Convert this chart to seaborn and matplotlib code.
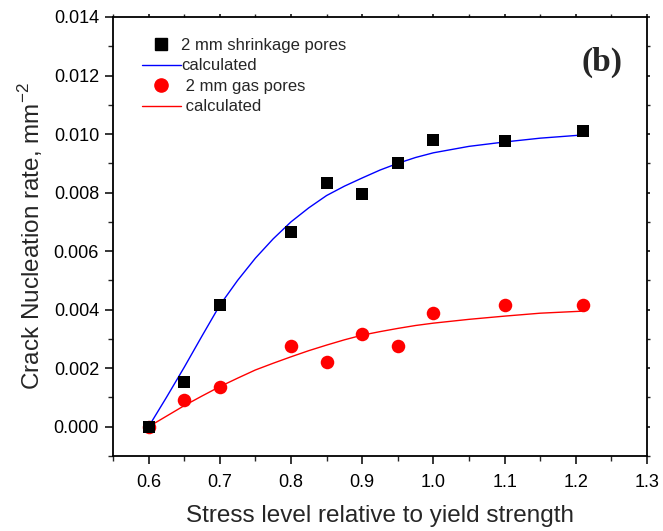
import matplotlib
matplotlib.use("Agg")
import matplotlib.pyplot as plt
import seaborn as sns
import pandas as pd
from matplotlib.lines import Line2D

# measured points
x_pts = [0.6, 0.65, 0.7, 0.8, 0.85, 0.9, 0.95, 1.0, 1.1, 1.21]
shrink = [0.0, 0.00154, 0.00415, 0.00665, 0.00832, 0.00796, 0.00900, 0.00980, 0.00975, 0.01010]
gas = [0.0, 0.00091, 0.00137, 0.00277, 0.00222, 0.00317, 0.00277, 0.00388, 0.00416, 0.00416]

# calculated curves
x_cal = [0.6, 0.625, 0.65, 0.675, 0.7, 0.725, 0.75, 0.775, 0.8, 0.825, 0.85, 0.875, 0.9,
         0.925, 0.95, 0.975, 1.0, 1.05, 1.1, 1.15, 1.21]
shrink_cal = [0.0, 0.00100, 0.00203, 0.00310, 0.00415, 0.00500, 0.00576, 0.00642, 0.00700,
              0.00748, 0.00790, 0.00822, 0.00850, 0.00877, 0.00900, 0.00920, 0.00936,
              0.00958, 0.00973, 0.00986, 0.00997]
gas_cal = [0.0, 0.00036, 0.00072, 0.00105, 0.00137, 0.00166, 0.00194, 0.00217, 0.00239,
           0.00260, 0.00279, 0.00297, 0.00313, 0.00325, 0.00336, 0.00346, 0.00354,
           0.00367, 0.00378, 0.00388, 0.00395]

labels = ["2 mm shrinkage pores", "calculated", " 2 mm gas pores", " calculated"]
x_ticks = [0.6, 0.7, 0.8, 0.9, 1.0, 1.1, 1.2, 1.3]
y_ticks = [0.000, 0.002, 0.004, 0.006, 0.008, 0.010, 0.012, 0.014]

sns.set_theme(style="ticks")
plt.rcParams['font.family'] = ['Liberation Sans', 'DejaVu Sans']
plt.rcParams['mathtext.fontset'] = 'custom'
plt.rcParams['mathtext.rm'] = 'Liberation Sans'

fig = plt.figure(figsize=(6.63, 5.31), dpi=100)
ax = fig.add_axes([0.1704, 0.1412, 0.8055, 0.8268])

df_pts = pd.DataFrame({"x": x_pts, "shrink": shrink, "gas": gas})
df_cal = pd.DataFrame({"x": x_cal, "shrink": shrink_cal, "gas": gas_cal})

sns.lineplot(data=df_cal, x="x", y="shrink", ax=ax, color="#0000ff", linewidth=1.0, zorder=2)
sns.lineplot(data=df_cal, x="x", y="gas", ax=ax, color="#ff0000", linewidth=1.0, zorder=2)
sns.scatterplot(data=df_pts, x="x", y="gas", ax=ax, color="#ff0000", marker="o", s=95,
                linewidth=0, zorder=3)
sns.scatterplot(data=df_pts, x="x", y="shrink", ax=ax, color="black", marker="s", s=72,
                linewidth=0, zorder=4)

ax.set_xlim(0.55, 1.3)
ax.set_ylim(-0.001, 0.014)
ax.set_xticks(x_ticks)
ax.set_xticklabels([f"{v:.1f}" for v in x_ticks])
ax.set_yticks(y_ticks)
ax.set_yticklabels([f"{v:.3f}" for v in y_ticks])
ax.set_xticks([0.55, 0.65, 0.75, 0.85, 0.95, 1.05, 1.15, 1.25], minor=True)
ax.set_yticks([-0.001, 0.001, 0.003, 0.005, 0.007, 0.009, 0.011, 0.013], minor=True)

for s in ax.spines.values():
    s.set_linewidth(1.3)
    s.set_color("black")
ax.tick_params(axis="both", which="major", direction="out", length=6, width=1.1,
               labelsize=13, colors="black", pad=4)
ax.tick_params(axis="both", which="minor", direction="out", length=3.5, width=1.0)
ax.tick_params(axis="x", which="both", top=True, labeltop=False)
ax.tick_params(axis="y", which="both", right=True, labelright=False)
ax.tick_params(axis="x", which="major", pad=7)
# smaller ticks on top/right
for t in ax.xaxis.get_major_ticks() + ax.xaxis.get_minor_ticks():
    t.tick2line.set_markersize(2.5)
for t in ax.yaxis.get_major_ticks() + ax.yaxis.get_minor_ticks():
    t.tick2line.set_markersize(2.5)

ax.set_xlabel("Stress level relative to yield strength", fontsize=17.5, labelpad=10)
ax.set_ylabel("Crack Nucleation rate, mm$^{\\mathregular{-2}}$", fontsize=17.5, labelpad=6)

handles = [
    Line2D([], [], color="black", marker="s", linestyle="none", markersize=8.5),
    Line2D([], [], color="#0000ff", linewidth=1.0),
    Line2D([], [], color="#ff0000", marker="o", linestyle="none", markersize=9.5),
    Line2D([], [], color="#ff0000", linewidth=1.0),
]
ax.legend(handles, labels, loc="upper left", bbox_to_anchor=(0.035, 0.975), frameon=False,
          fontsize=12, handlelength=2.35, handletextpad=0.0, labelspacing=0.33,
          borderaxespad=0.2)

ax.text(0.955, 0.897, "(b)", transform=ax.transAxes, ha="right", va="center",
        fontsize=24, fontweight="bold", family=["Liberation Serif", "DejaVu Serif"])

fig.savefig("out.png", dpi=100)
